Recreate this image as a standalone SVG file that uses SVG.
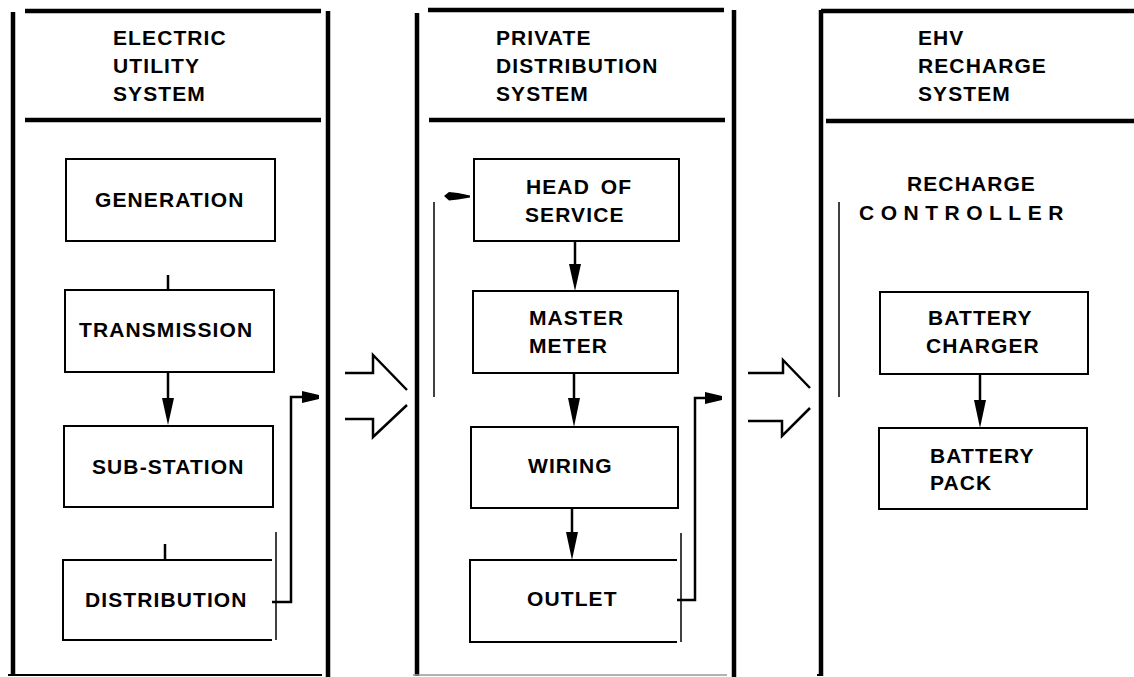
<svg xmlns="http://www.w3.org/2000/svg" width="1134" height="677" viewBox="0 0 1134 677">
<style>
text{font-family:"Liberation Sans",Arial,sans-serif;font-weight:bold;font-size:21px;letter-spacing:1.1px;fill:#000}
.frame{stroke:#000;stroke-width:4.5;fill:none}
.thin{stroke:#000;stroke-width:1.5;fill:none}
.box{stroke:#000;stroke-width:2;fill:none}
.wire{stroke:#000;stroke-width:2.5;fill:none}
.big{stroke:#000;stroke-width:2.5;fill:none;stroke-linejoin:miter}
.head{fill:#000}
</style>
<rect width="1134" height="677" fill="#fff"/>

<g id="panel-utility">
<line class="frame" x1="13" y1="12" x2="13" y2="676"/>
<line class="frame" x1="328" y1="11" x2="328" y2="677"/>
<line class="frame" x1="25" y1="11" x2="321" y2="11"/>
<line class="frame" x1="25" y1="120" x2="321" y2="120"/>
<line class="box" x1="8" y1="675" x2="322" y2="675"/>
<text x="113" y="45">ELECTRIC</text>
<text x="113" y="73">UTILITY</text>
<text x="113" y="101">SYSTEM</text>
</g>

<g id="panel-private">
<line class="frame" x1="417" y1="13" x2="417" y2="676"/>
<line class="frame" x1="734" y1="10" x2="734" y2="677"/>
<line class="frame" x1="428" y1="10" x2="724" y2="10"/>
<line class="frame" x1="429" y1="120" x2="725" y2="120"/>
<line stroke="#999" stroke-width="1.5" x1="413" y1="675" x2="727" y2="675"/>
<text x="496" y="45">PRIVATE</text>
<text x="496" y="73">DISTRIBUTION</text>
<text x="496" y="101">SYSTEM</text>
</g>

<g id="panel-ehv">
<line class="frame" x1="821" y1="10" x2="821" y2="676"/>
<line class="frame" x1="821" y1="11" x2="1134" y2="11"/>
<line class="frame" x1="826" y1="121" x2="1134" y2="121"/>
<line class="box" x1="817" y1="675" x2="821" y2="675"/>
<text x="918" y="45">EHV</text>
<text x="918" y="73">RECHARGE</text>
<text x="918" y="101">SYSTEM</text>
</g>

<g id="generation">
<rect class="box" x="66" y="159" width="209" height="82"/>
<text x="95" y="207">GENERATION</text>
</g>
<g id="transmission">
<rect class="box" x="65" y="290" width="209" height="82"/>
<text x="79" y="337">TRANSMISSION</text>
</g>
<g id="sub-station">
<rect class="box" x="64" y="426" width="209" height="81"/>
<text x="92" y="474">SUB-STATION</text>
</g>
<g id="distribution">
<path class="box" d="M272,560 H63 V640 H272"/>
<line class="thin" x1="276" y1="532" x2="276" y2="640"/>
<text x="85" y="607">DISTRIBUTION</text>
</g>

<g id="head-of-service">
<rect class="box" x="474" y="159" width="205" height="82"/>
<text x="526" y="194" word-spacing="4">HEAD OF</text>
<text x="525" y="222">SERVICE</text>
</g>
<g id="master-meter">
<rect class="box" x="473" y="291" width="205" height="82"/>
<text x="529" y="325">MASTER</text>
<text x="529" y="353">METER</text>
</g>
<g id="wiring">
<rect class="box" x="471" y="427" width="207" height="81"/>
<text x="528" y="473">WIRING</text>
</g>
<g id="outlet">
<path class="box" d="M677,560 H470 V642 H677"/>
<line class="thin" x1="681" y1="533" x2="681" y2="642"/>
<text x="527" y="606">OUTLET</text>
</g>

<g id="recharge-controller">
<text x="907" y="191">RECHARGE</text>
<text x="859" y="220" style="letter-spacing:6.5px">CONTROLLER</text>
<line class="thin" x1="839" y1="202" x2="839" y2="397"/>
</g>
<g id="battery-charger">
<rect class="box" x="880" y="292" width="208" height="82"/>
<text x="928" y="325">BATTERY</text>
<text x="926" y="353">CHARGER</text>
</g>
<g id="battery-pack">
<rect class="box" x="879" y="428" width="208" height="81"/>
<text x="930" y="463">BATTERY</text>
<text x="930" y="490">PACK</text>
</g>

<g id="connectors">
<line class="wire" x1="168" y1="275" x2="168" y2="290"/>
<line class="wire" x1="168" y1="372" x2="168" y2="400"/>
<path class="head" d="M162,398 L174,398 L168,425 Z"/>
<line class="wire" x1="165" y1="544" x2="165" y2="560"/>
<path class="wire" d="M272,602 H291 V397 H304"/>
<path class="head" d="M302,391 L319,395 L319,399 L302,403 Z"/>

<line class="thin" x1="434" y1="202" x2="434" y2="397"/>
<path class="head" d="M444,196 L449,192 L458,193 L470,195.5 L470,197.5 L458,199.5 L449,200.5 Z"/>
<line class="wire" x1="575" y1="241" x2="575" y2="266"/>
<path class="head" d="M569,264 L581,264 L575,291 Z"/>
<line class="wire" x1="574" y1="373" x2="574" y2="400"/>
<path class="head" d="M568,398 L580,398 L574,427 Z"/>
<line class="wire" x1="572" y1="508" x2="572" y2="534"/>
<path class="head" d="M566,532 L578,532 L572,560 Z"/>
<path class="wire" d="M677,600 H695 V398 H707"/>
<path class="head" d="M705,392 L722,396 L722,400 L705,404 Z"/>

<line class="wire" x1="980" y1="374" x2="980" y2="402"/>
<path class="head" d="M974,400 L986,400 L980,428 Z"/>

<path class="big" d="M345,373 H373 V355 L407,390"/>
<path class="big" d="M345,419 H373 V437 L407,405"/>
<path class="big" d="M748,373 H783 V360 L810,388"/>
<path class="big" d="M748,421 H782 V436 L810,408"/>
</g>
</svg>
